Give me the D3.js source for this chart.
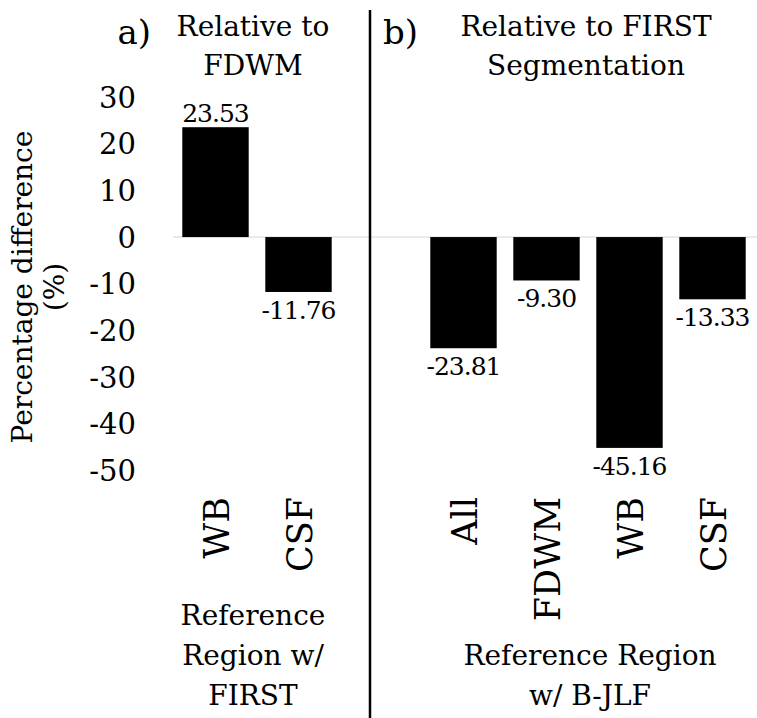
<!DOCTYPE html>
<html>
<head>
<meta charset="utf-8">
<script src="https://cdn.jsdelivr.net/npm/d3@7"></script>
<style>
  body { margin: 0; background: #fff; }
</style>
</head>
<body>
<div id="chart"></div>
<script>
// panel a: relative to FDWM
var catsA = ["WB", "CSF"];
var valsA = [23.53, -11.76];
// panel b: relative to FIRST segmentation
var catsB = ["All", "FDWM", "WB", "CSF"];
var valsB = [-23.81, -9.30, -45.16, -13.33];
var yTicks = [30, 20, 10, 0, -10, -20, -30, -40, -50];

var FONT = "'DejaVu Serif', serif";
var w = 757, h = 718;
var svg = d3.select("#chart").append("svg")
    .attr("width", w)
    .attr("height", h)
    .style("font-family", FONT);

var y = d3.scaleLinear().domain([-50, 30]).range([470.5, 97]);

// y tick labels, no axis line; plain hyphen for the minus
var yAxis = d3.axisLeft(y).tickValues(yTicks).tickSize(0).tickPadding(0)
    .tickFormat(function(d) { return String(d); });
var gy = svg.append("g").attr("transform", "translate(136,0)").call(yAxis);
gy.attr("font-family", null).attr("font-size", null);
gy.select(".domain").remove();
gy.selectAll("text")
    .style("font-size", "29px")
    .attr("fill", "#000")
    .attr("dy", "0.35em");

// zero line
svg.append("line")
    .attr("x1", 173).attr("x2", 757)
    .attr("y1", y(0)).attr("y2", y(0))
    .attr("stroke", "#d4d4d4").attr("stroke-width", 1);

function panel(cats, vals, range) {
    var x = d3.scaleBand().domain(cats).range(range).paddingInner(0.2).paddingOuter(0.1);
    var data = cats.map(function(c, i) { return {c: c, v: vals[i]}; });
    var g = svg.append("g");

    g.selectAll("rect")
        .data(data)
        .enter()
        .append("rect")
        .attr("x", function(d) { return x(d.c); })
        .attr("y", function(d) { return y(Math.max(0, d.v)); })
        .attr("width", x.bandwidth())
        .attr("height", function(d) { return Math.abs(y(d.v) - y(0)); })
        .attr("fill", "#000");

    g.selectAll(".val")
        .data(data)
        .enter()
        .append("text")
        .attr("class", "val")
        .attr("x", function(d) { return x(d.c) + x.bandwidth() / 2; })
        .attr("y", function(d) { return d.v > 0 ? y(d.v) - 5 : y(d.v) + 27; })
        .attr("text-anchor", "middle")
        .style("font-size", "25px")
        .style("letter-spacing", "-1px")
        .text(function(d) { return d.v.toFixed(2); });

    // rotated category labels
    g.selectAll(".cat")
        .data(data)
        .enter()
        .append("text")
        .attr("class", "cat")
        .attr("transform", function(d) {
            return "translate(" + (x(d.c) + x.bandwidth() / 2 + 13) + ",497) rotate(-90)";
        })
        .attr("text-anchor", "end")
        .style("font-size", "35px")
        .text(function(d) { return d.c; });
    return x;
}

panel(catsA, valsA, [174, 340]);
panel(catsB, valsB, [422, 754]);

// divider
svg.append("line")
    .attr("x1", 370).attr("x2", 370)
    .attr("y1", 10).attr("y2", h)
    .attr("stroke", "#000").attr("stroke-width", 2.5);

function lines(xc, y0, arr, size, step) {
    var t = svg.append("text").attr("text-anchor", "middle").style("font-size", size + "px");
    arr.forEach(function(s, i) {
        t.append("tspan").attr("x", xc).attr("y", y0 + i * step).text(s);
    });
}

// panel titles
svg.append("text").attr("x", 151).attr("y", 44).attr("text-anchor", "end")
    .style("font-size", "34px").text("a)");
svg.append("text").attr("x", 383).attr("y", 44)
    .style("font-size", "34px").text("b)");
lines(253, 36, ["Relative to", "FDWM"], 28, 39);
lines(586, 36, ["Relative to FIRST", "Segmentation"], 28, 39);

// x titles (bottom aligned)
lines(253, 625, ["Reference", "Region w/", "FIRST"], 28, 40);
lines(590, 665, ["Reference Region", "w/ B-JLF"], 28, 40);

// y title
var yt = svg.append("text").attr("text-anchor", "middle")
    .attr("transform", "translate(0,287) rotate(-90)")
    .style("font-size", "28px");
yt.append("tspan").attr("x", 0).attr("y", 32).text("Percentage difference");
yt.append("tspan").attr("x", 0).attr("y", 64).text("(%)");
</script>
</body>
</html>
